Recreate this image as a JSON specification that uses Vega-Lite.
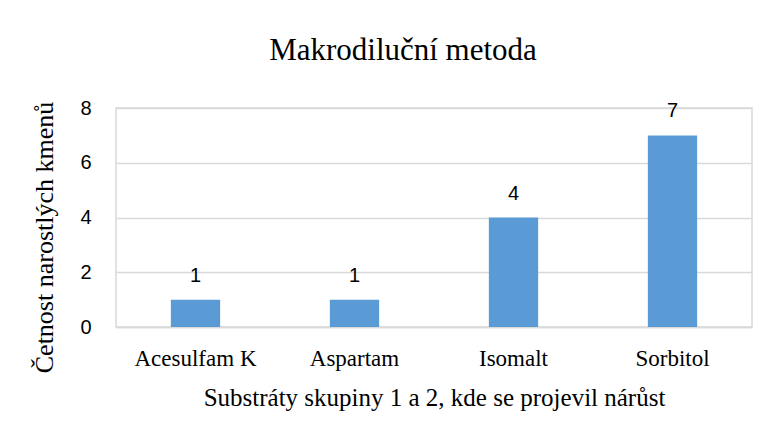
{
  "$schema": "https://vega.github.io/schema/vega-lite/v6.json",
  "width": 636,
  "height": 219,
  "autosize": {"type": "none"},
  "padding": {"left": 116, "top": 108, "right": 15, "bottom": 109},
  "background": "white",
  "title": {
    "text": "Makrodiluční metoda",
    "font": "Liberation Serif",
    "fontSize": 31,
    "fontWeight": "normal",
    "color": "#000000",
    "anchor": "middle",
    "frame": "group",
    "dx": -31,
    "offset": 31
  },
  "data": {
    "values": [
      {"substrat": "Acesulfam K", "cetnost": 1},
      {"substrat": "Aspartam", "cetnost": 1},
      {"substrat": "Isomalt", "cetnost": 4},
      {"substrat": "Sorbitol", "cetnost": 7}
    ]
  },
  "encoding": {
    "x": {
      "field": "substrat",
      "type": "nominal",
      "sort": null,
      "scale": {"paddingInner": 0.69, "paddingOuter": 0.345},
      "axis": {
        "title": "Substráty skupiny 1 a 2, kde se projevil nárůst",
        "titleFont": "Liberation Serif",
        "titleFontSize": 25,
        "titleFontWeight": "normal",
        "titleColor": "#000000",
        "titlePadding": 15,
        "labelFont": "Liberation Serif",
        "labelFontSize": 23,
        "labelColor": "#000000",
        "labelAngle": 0,
        "labelPadding": 20,
        "ticks": false,
        "domainColor": "#d9d9d9",
        "domainWidth": 1.5
      }
    },
    "y": {
      "field": "cetnost",
      "type": "quantitative",
      "scale": {"domain": [0, 8]},
      "axis": {
        "values": [0, 2, 4, 6, 8],
        "title": "Četnost narostlých kmenů",
        "titleFont": "Liberation Serif",
        "titleFontSize": 26,
        "titleFontWeight": "normal",
        "titleColor": "#000000",
        "titleX": -64,
        "titleY": 129,
        "titleAlign": "center",
        "titleBaseline": "alphabetic",
        "labelFont": "Liberation Sans",
        "labelFontSize": 20,
        "labelColor": "#000000",
        "labelPadding": 25,
        "ticks": false,
        "domain": false,
        "gridColor": "#d9d9d9",
        "gridWidth": 1.5
      }
    }
  },
  "layer": [
    {"mark": {"type": "bar", "color": "#5b9bd5"}},
    {
      "mark": {
        "type": "text",
        "baseline": "bottom",
        "dy": -14,
        "font": "Liberation Sans",
        "fontSize": 20,
        "color": "#000000"
      },
      "encoding": {"text": {"field": "cetnost", "type": "quantitative"}}
    }
  ],
  "config": {
    "view": {"stroke": "#d9d9d9", "strokeWidth": 1.5}
  }
}
